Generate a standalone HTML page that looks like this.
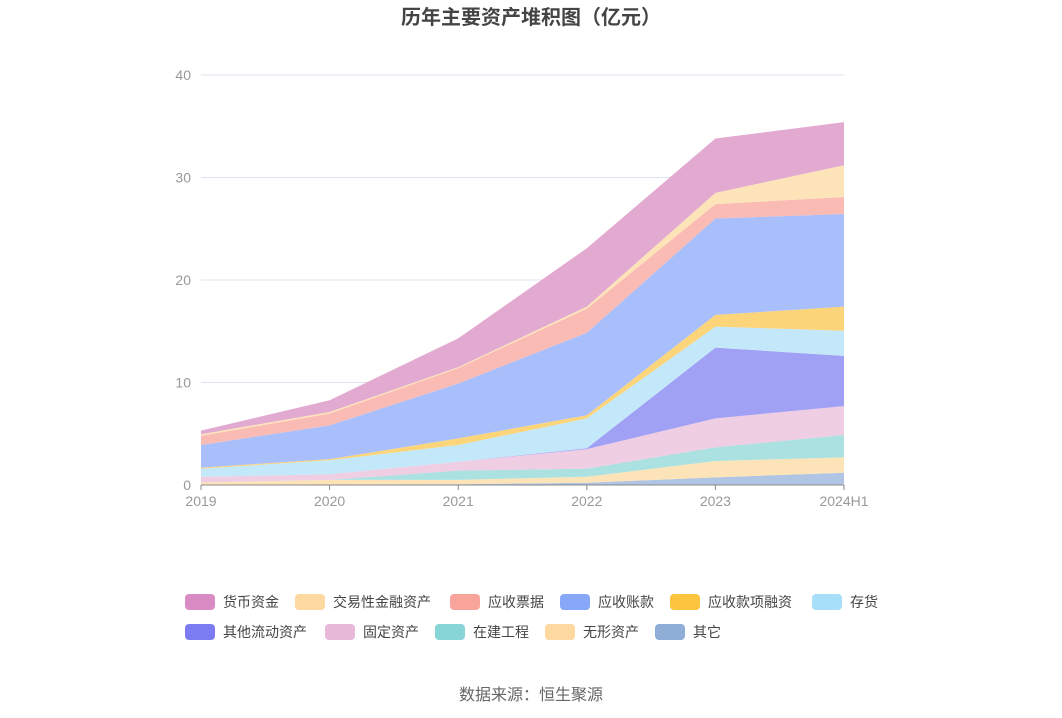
<!DOCTYPE html>
<html><head><meta charset="utf-8"><style>
body{margin:0;background:#fff;font-family:"Liberation Sans","Noto Sans CJK SC",sans-serif}
#wrap{position:relative;width:1062px;height:718px;overflow:hidden}
</style></head><body>
<div id="wrap">
<svg id="svg" width="1062" height="718"></svg>
</div>
<script>
const categories=["2019","2020","2021","2022","2023","2024H1"];
const seriesNames=["其它","无形资产","在建工程","固定资产","其他流动资产","存货","应收款项融资","应收账款","应收票据","交易性金融资产","货币资金"];
const sOther=[0.05,0.05,0.07,0.22,0.75,1.2];
const sIntangible=[0.2,0.45,0.43,0.58,1.59,1.5];
const sConstruction=[0,0,0.9,0.8,1.34,2.18];
const sFixed=[0.55,0.55,0.87,1.9,2.82,2.82];
const sOtherCurrent=[0,0,0,0.08,6.9,4.9];
const sInventory=[0.8,1.37,1.63,2.92,2.05,2.45];
const sFinancing=[0.1,0.1,0.65,0.3,1.15,2.35];
const sReceivable=[2.2,3.3,5.35,8.05,9.4,9.04];
const sNotes=[0.9,1.15,1.5,2.35,1.4,1.66];
const sTrading=[0.15,0.15,0.1,0.2,1.1,3.1];
const sCash=[0.35,1.15,2.8,5.7,5.3,4.2];
const yTicks=[0,10,20,30,40];
const allSeries=[sOther,sIntangible,sConstruction,sFixed,sOtherCurrent,sInventory,sFinancing,sReceivable,sNotes,sTrading,sCash];
const fills=["#b0c4e4","#fde3b8","#abe1e1","#efcde3","#a0a0f5","#c3e8fa","#fcd479","#a9bffc","#fabbb5","#fde3b8","#e3aad1"];
const swatch=["#8eaed8","#fdd8a0","#87d5d5","#e8b8d8","#7b7cf0","#a8dff8","#fcc43f","#87a7f8","#f9a49a","#fdd8a0","#d98bc4"];
const slugs=["other","intangible","construction","fixed-assets","other-current","inventory","financing","receivable","notes","trading","cash"];
const NS="http://www.w3.org/2000/svg";
const svg=document.getElementById('svg');
const x0=201,x1=844,yb=485,yt=75,ymax=40;
const X=i=>x0+(x1-x0)*i/(categories.length-1);
const Y=v=>yb-(yb-yt)*v/ymax;
function mk(t,a,p){const e=document.createElementNS(NS,t);for(const k in a)e.setAttribute(k,a[k]);(p||svg).appendChild(e);return e;}
let t=mk('text',{x:531,y:24,'text-anchor':'middle','font-size':20,'font-weight':'bold',fill:'#444'});t.textContent='历年主要资产堆积图（亿元）';


yTicks.forEach(v=>{
 const l=mk('line',{x1:x0,x2:x1,y1:Y(v),y2:Y(v),stroke:'#e0e0ee'});
 
 
 const tt=mk('text',{x:191,y:Y(v)+5,'text-anchor':'end','font-size':14,fill:'#999'});tt.textContent=v;
 
 
});
let cum=categories.map(()=>0);
allSeries.forEach((s,k)=>{
 const lo=cum.slice();const hi=cum.map((c,i)=>c+s[i]);
 let d='M'+hi.map((v,i)=>X(i)+','+Y(v)).join('L')+'L'+lo.map((v,i)=>[X(i),Y(v)]).reverse().map(p=>p.join(',')).join('L')+'Z';
 const p=mk('path',{d:d,fill:fills[k]});
 
 
 cum=hi;
});
const ax=mk('line',{x1:x0,x2:x1,y1:yb,y2:yb,stroke:'#888'});


categories.forEach((c,i)=>{
 const tk=mk('line',{x1:X(i),x2:X(i),y1:yb,y2:yb+5,stroke:'#888'});
 
 
 const tx=mk('text',{x:X(i),y:506,'text-anchor':'middle','font-size':14,fill:'#999'});tx.textContent=c;
 
 
});
const legendOrder=[10,9,8,7,6,5,4,3,2,1,0];
const lpos=[[185,602],[295,602],[450,602],[560,602],[670,602],[812,602],[185,632],[325,632],[435,632],[545,632],[655,632]];
legendOrder.forEach((k,j)=>{
 const [lx,ly]=lpos[j];
 const g=mk('g',{});
 
 
 mk('rect',{x:lx,y:ly-8,width:30,height:16,rx:4,fill:swatch[k]},g);
 const tx=mk('text',{x:lx+38,y:ly+5,'font-size':14,fill:'#444'},g);tx.textContent=seriesNames[k];
});
const src=mk('text',{x:531,y:700,'text-anchor':'middle','font-size':16,fill:'#666'});src.textContent='数据来源：恒生聚源';


</script>
</body></html>
